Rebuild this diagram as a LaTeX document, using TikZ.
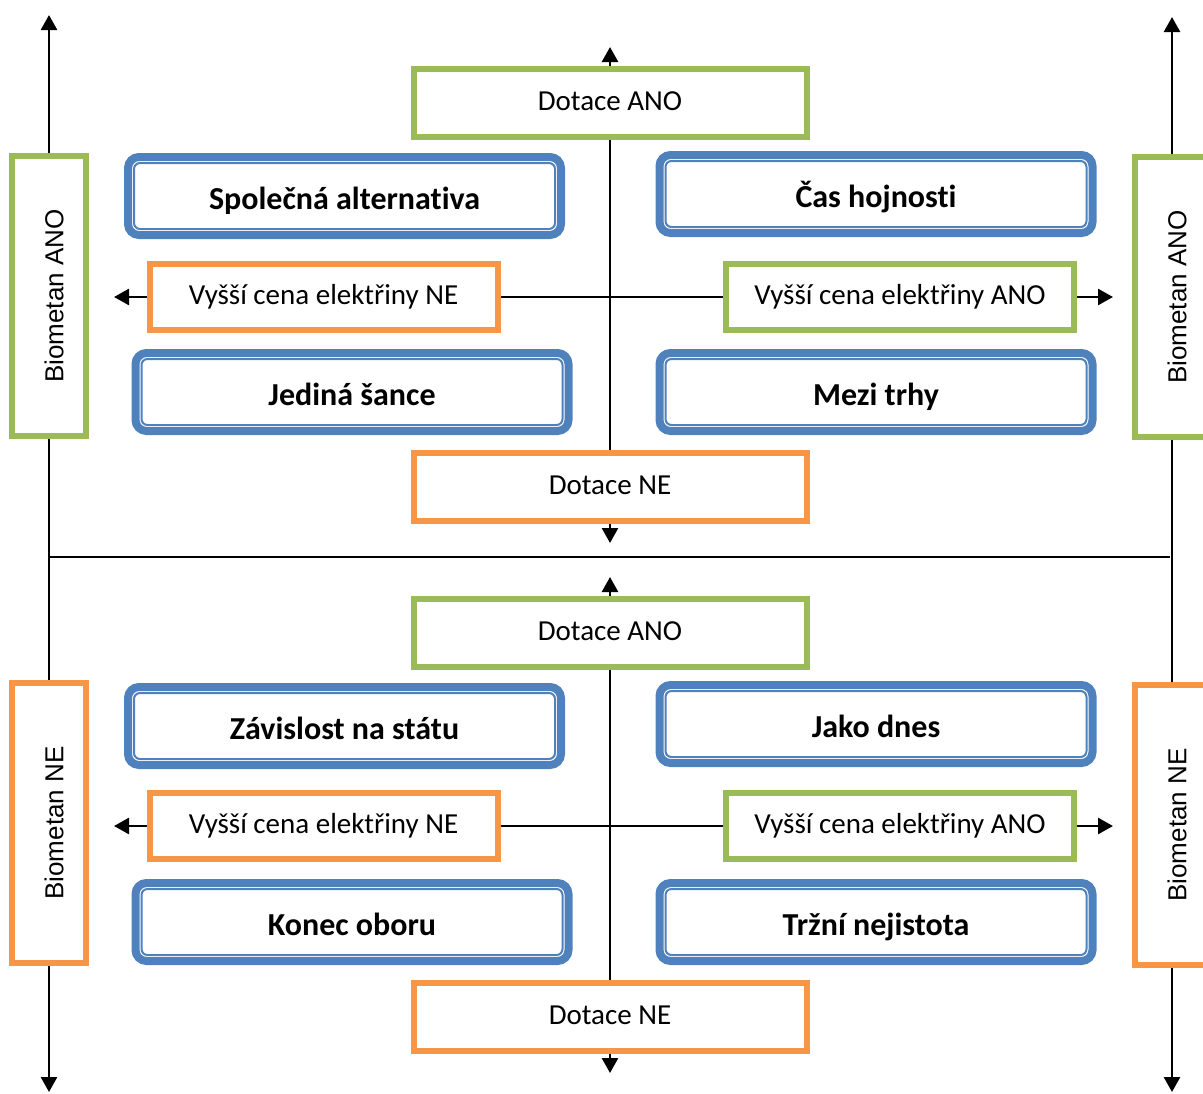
\documentclass[tikz,border=0pt]{standalone}
\usepackage{fontspec}
\setmainfont{Carlito}[Ligatures=NoCommon]
\newfontfamily\axisfont{Liberation Sans}
\usepackage{tikz}
\usetikzlibrary{arrows.meta, backgrounds}
\definecolor{scenblue}{HTML}{4F81BD}
\definecolor{anogreen}{HTML}{9BBB59}
\definecolor{neorange}{HTML}{F79646}
\tikzset{
    scenario/.style={
        rectangle, rounded corners=5.5pt, minimum width=216.5pt, minimum height=39pt,
        text height=14.5pt, text depth=1.3pt,
        align=center, draw=scenblue, line width=4pt, fill=white, font=\fontsize{16}{19}\selectfont\bfseries,
        path picture={
            \draw[scenblue, line width=1pt, rounded corners=3pt]
                ([shift={(3pt,3pt)}]path picture bounding box.south west) rectangle
                ([shift={(-3pt,-3pt)}]path picture bounding box.north east);
        }
    },
    driver/.style={
        rectangle, line width=3pt, fill=white, inner sep=0pt, align=center, font=\fontsize{14.5}{17}\selectfont
    },
    driver_green/.style={driver, draw=anogreen},
    driver_orange/.style={driver, draw=neorange},
    dotace/.style={minimum width=196.5pt, minimum height=34pt, text height=10pt, text depth=2.5pt},
    cena/.style={minimum width=174pt, minimum height=33pt, text height=10pt, text depth=2.5pt},
    biometan/.style={minimum width=37pt, minimum height=140pt, font=\axisfont\fontsize{13}{15}\selectfont},
    arrow/.style={
        line width=1.3pt, -{Triangle[length=7.5pt, width=8pt]}, draw=black
    },
    link/.style={line width=1.3pt, draw=black}
}
\newcommand{\osa}[1]{\rotatebox{90}{\rule{0pt}{14.5pt}#1}}

\begin{document}
\begin{tikzpicture}[x=0.5pt, y=-0.5pt]
    \clip (0,0) rectangle (1203,1093);

    % osy biometanu
    \node[driver_green, biometan] (bioAnoL) at (49,296) {\osa{Biometan ANO}};
    \node[driver_orange, biometan] (bioNeL) at (49,823) {\osa{Biometan NE}};
    \node[driver_green, biometan] (bioAnoR) at (1172,297) {\osa{Biometan ANO}};
    \node[driver_orange, biometan] (bioNeR) at (1172,825) {\osa{Biometan NE}};

    % horni kvadrant
    \node[driver_green, dotace] (dotAno1) at (610,103) {Dotace ANO};
    \node[driver_orange, dotace] (dotNe1) at (610,487) {Dotace NE};
    \node[driver_orange, cena] (cenaNe1) at (323.5,297) {Vyšší cena elektřiny NE};
    \node[driver_green, cena] (cenaAno1) at (900,297) {Vyšší cena elektřiny ANO};
    \node[scenario] (spolecna) at (344.5,196) {Společná alternativa};
    \node[scenario] (hojnost) at (876,194) {Čas hojnosti};
    \node[scenario] (jedina) at (352,392) {Jediná šance};
    \node[scenario] (mezi) at (876,392) {Mezi trhy};

    % dolni kvadrant
    \node[driver_green, dotace] (dotAno2) at (610,633) {Dotace ANO};
    \node[driver_orange, dotace] (dotNe2) at (610,1017) {Dotace NE};
    \node[driver_orange, cena] (cenaNe2) at (323.5,826) {Vyšší cena elektřiny NE};
    \node[driver_green, cena] (cenaAno2) at (900,826) {Vyšší cena elektřiny ANO};
    \node[scenario] (zavislost) at (344.5,726) {Závislost na státu};
    \node[scenario] (dnes) at (876,724) {Jako dnes};
    \node[scenario] (konec) at (352,922) {Konec oboru};
    \node[scenario] (trzni) at (876,922) {Tržní nejistota};

    \coordinate (leftTop) at (49,15);
    \coordinate (leftBot) at (49,1092);
    \coordinate (rightTop) at (1172,17);
    \coordinate (rightBot) at (1172,1092);
    \coordinate (sepL) at (49,557);
    \coordinate (sepR) at (1170,557);
    \coordinate (up1) at (610,47);
    \coordinate (down1) at (610,543);
    \coordinate (up2) at (610,577);
    \coordinate (down2) at (610,1073);
    \coordinate (west1) at (114,297);
    \coordinate (east1) at (1113,297);
    \coordinate (west2) at (114,826);
    \coordinate (east2) at (1113,826);

    \begin{scope}[on background layer]
        \draw[arrow] (bioAnoL) -- (leftTop);
        \draw[link] (bioAnoL) -- (bioNeL);
        \draw[arrow] (bioNeL) -- (leftBot);
        \draw[arrow] (bioAnoR) -- (rightTop);
        \draw[link] (bioAnoR) -- (bioNeR);
        \draw[arrow] (bioNeR) -- (rightBot);
        \draw[link] (sepL) -- (sepR);

        \draw[arrow] (dotAno1) -- (up1);
        \draw[link] (dotAno1) -- (dotNe1);
        \draw[arrow] (dotNe1) -- (down1);
        \draw[arrow] (cenaNe1) -- (west1);
        \draw[link] (cenaNe1) -- (cenaAno1);
        \draw[arrow] (cenaAno1) -- (east1);

        \draw[arrow] (dotAno2) -- (up2);
        \draw[link] (dotAno2) -- (dotNe2);
        \draw[arrow] (dotNe2) -- (down2);
        \draw[arrow] (cenaNe2) -- (west2);
        \draw[link] (cenaNe2) -- (cenaAno2);
        \draw[arrow] (cenaAno2) -- (east2);
    \end{scope}
\end{tikzpicture}
\end{document}
